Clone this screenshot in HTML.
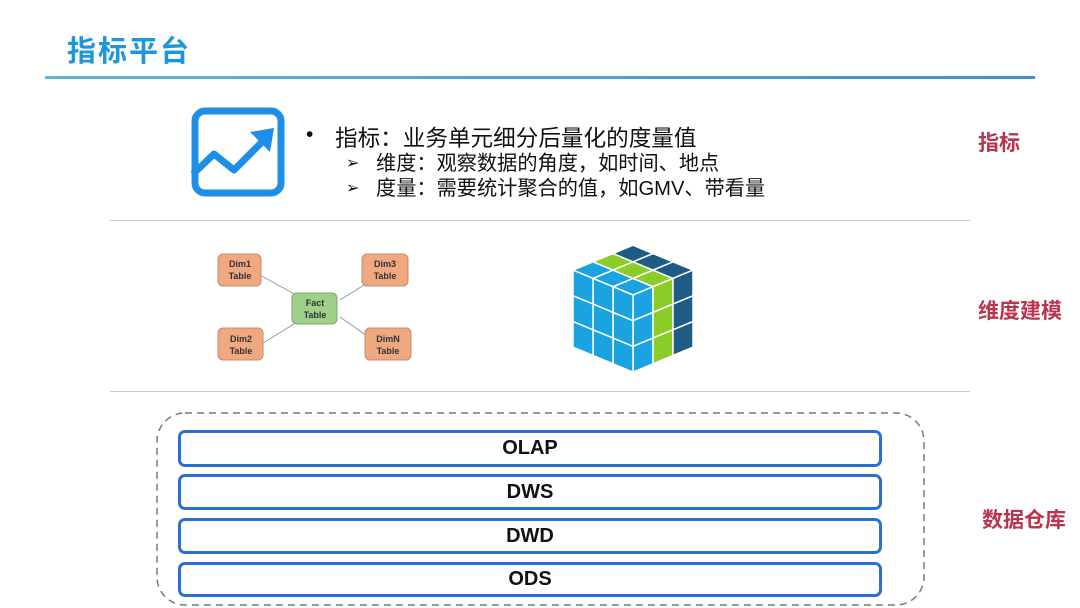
<!DOCTYPE html>
<html><head><meta charset="utf-8"><style>
body{margin:0;width:1080px;height:608px;background:#fff;position:relative;overflow:hidden;font-family:"Liberation Sans","Noto Sans CJK SC",sans-serif}
.a{position:absolute;white-space:nowrap}
.lbl{color:#b8344f;font-weight:bold;font-size:21px}
.bar{position:absolute;left:178px;width:704px;border:3px solid #2b6fd1;border-radius:7px;text-align:center;font-weight:bold;font-size:20px;color:#111;box-sizing:border-box}
</style></head><body>
<div class="a" style="left:67px;top:28px;font-size:29px;font-weight:bold;color:#1e96dc;letter-spacing:2px">指标平台</div>
<div class="a" style="left:45px;top:76px;width:990px;height:3px;background:linear-gradient(90deg,#5bb8d8,#3d8fd8)"></div>
<div class="a" style="left:110px;top:220px;width:860px;height:1px;background:#b8cfd6"></div>
<div class="a" style="left:110px;top:391px;width:860px;height:1px;background:#b8cfd6"></div>

<svg class="a" style="left:190px;top:106px" width="96" height="92" viewBox="0 0 96 92">
<rect x="5" y="5" width="86" height="82" rx="10" fill="none" stroke="#1e8fe8" stroke-width="7"/>
<polyline points="3,68 24,48 44,64 74,34" fill="none" stroke="#1e8fe8" stroke-width="7" stroke-linejoin="round"/>
<polygon points="60,26 84,22 80,46" fill="#1e8fe8"/>
</svg>

<div class="a" style="left:306px;top:123px;font-size:21px;color:#111">•</div>
<div class="a" style="left:335px;top:120px;font-size:22.6px;color:#111">指标：业务单元细分后量化的度量值</div>
<div class="a" style="left:346px;top:153px;font-size:16px;color:#111">➢</div>
<div class="a" style="left:376px;top:147px;font-size:20.2px;color:#111">维度：观察数据的角度，如时间、地点</div>
<div class="a" style="left:346px;top:178px;font-size:16px;color:#111">➢</div>
<div class="a" style="left:376px;top:172px;font-size:20.2px;color:#111">度量：需要统计聚合的值，如GMV、带看量</div>

<svg class="a" style="left:210px;top:245px" width="220" height="125">
<g stroke="#8a9aa8" stroke-width="1">
<line x1="50" y1="30" x2="95" y2="55"/><line x1="170" y1="30" x2="130" y2="55"/>
<line x1="50" y1="100" x2="95" y2="72"/><line x1="170" y1="100" x2="130" y2="72"/>
</g>
<g font-size="9" font-weight="bold" fill="#333" text-anchor="middle" font-family="Liberation Sans,sans-serif">
<rect x="8" y="9" width="43" height="32" rx="5" fill="#f0a880" stroke="#c88a6a"/><text x="30" y="22">Dim1</text><text x="30" y="34">Table</text>
<rect x="152" y="9" width="46" height="32" rx="5" fill="#f0a880" stroke="#c88a6a"/><text x="175" y="22">Dim3</text><text x="175" y="34">Table</text>
<rect x="82" y="48" width="45" height="31" rx="5" fill="#9fd08a" stroke="#7aa86a"/><text x="105" y="61">Fact</text><text x="105" y="73">Table</text>
<rect x="8" y="83" width="45" height="32" rx="5" fill="#f0a880" stroke="#c88a6a"/><text x="31" y="97">Dim2</text><text x="31" y="109">Table</text>
<rect x="155" y="83" width="46" height="32" rx="5" fill="#f0a880" stroke="#c88a6a"/><text x="178" y="97">DimN</text><text x="178" y="109">Table</text>
</g></svg>

<svg class="a" id="cube" style="left:0;top:0" width="1080" height="608"></svg>
<script>
(function(){var s=document.getElementById('cube'),F=[633,295],L=[-20,-8.3],R=[20,-8.3],D=[0,25.7],h='';
var col=['#1aa3e0','#8ccc28','#1e5b85'],lb='#1aa3e0';
function p(o,a,b){var q=[o,[o[0]+a[0],o[1]+a[1]],[o[0]+a[0]+b[0],o[1]+a[1]+b[1]],[o[0]+b[0],o[1]+b[1]]];return '<polygon points="'+q.map(function(v){return v.join(',')}).join(' ')+'" ';}
for(var i=0;i<3;i++)for(var j=0;j<3;j++){var o=[F[0]+i*L[0]+j*R[0],F[1]+i*L[1]+j*R[1]];h+=p(o,L,R)+'fill="'+col[j]+'" stroke="#fff" stroke-width="1.5"/>';}
for(var j=0;j<3;j++)for(var k=0;k<3;k++){var o=[F[0]+j*R[0],F[1]+j*R[1]+k*D[1]];h+=p(o,R,D)+'fill="'+col[j]+'" stroke="#fff" stroke-width="1.5"/>';}
for(var i=0;i<3;i++)for(var k=0;k<3;k++){var o=[F[0]+i*L[0],F[1]+i*L[1]+k*D[1]];h+=p(o,L,D)+'fill="'+lb+'" stroke="#fff" stroke-width="1.5"/>';}
s.innerHTML=h;})();
</script>

<div class="a lbl" style="left:978px;top:127px">指标</div>
<div class="a lbl" style="left:978px;top:295px">维度建模</div>
<div class="a lbl" style="left:982px;top:504px">数据仓库</div>

<svg class="a" style="left:155px;top:411px" width="772" height="197">
<rect x="2" y="2" width="767" height="192" rx="28" fill="none" stroke="#6d7b88" stroke-width="1.5" stroke-dasharray="7,5"/>
</svg>
<div class="bar" style="top:430px;height:37px;line-height:31px">OLAP</div>
<div class="bar" style="top:474px;height:36px;line-height:30px">DWS</div>
<div class="bar" style="top:518px;height:36px;line-height:30px">DWD</div>
<div class="bar" style="top:562px;height:35px;line-height:29px">ODS</div>
</body></html>
